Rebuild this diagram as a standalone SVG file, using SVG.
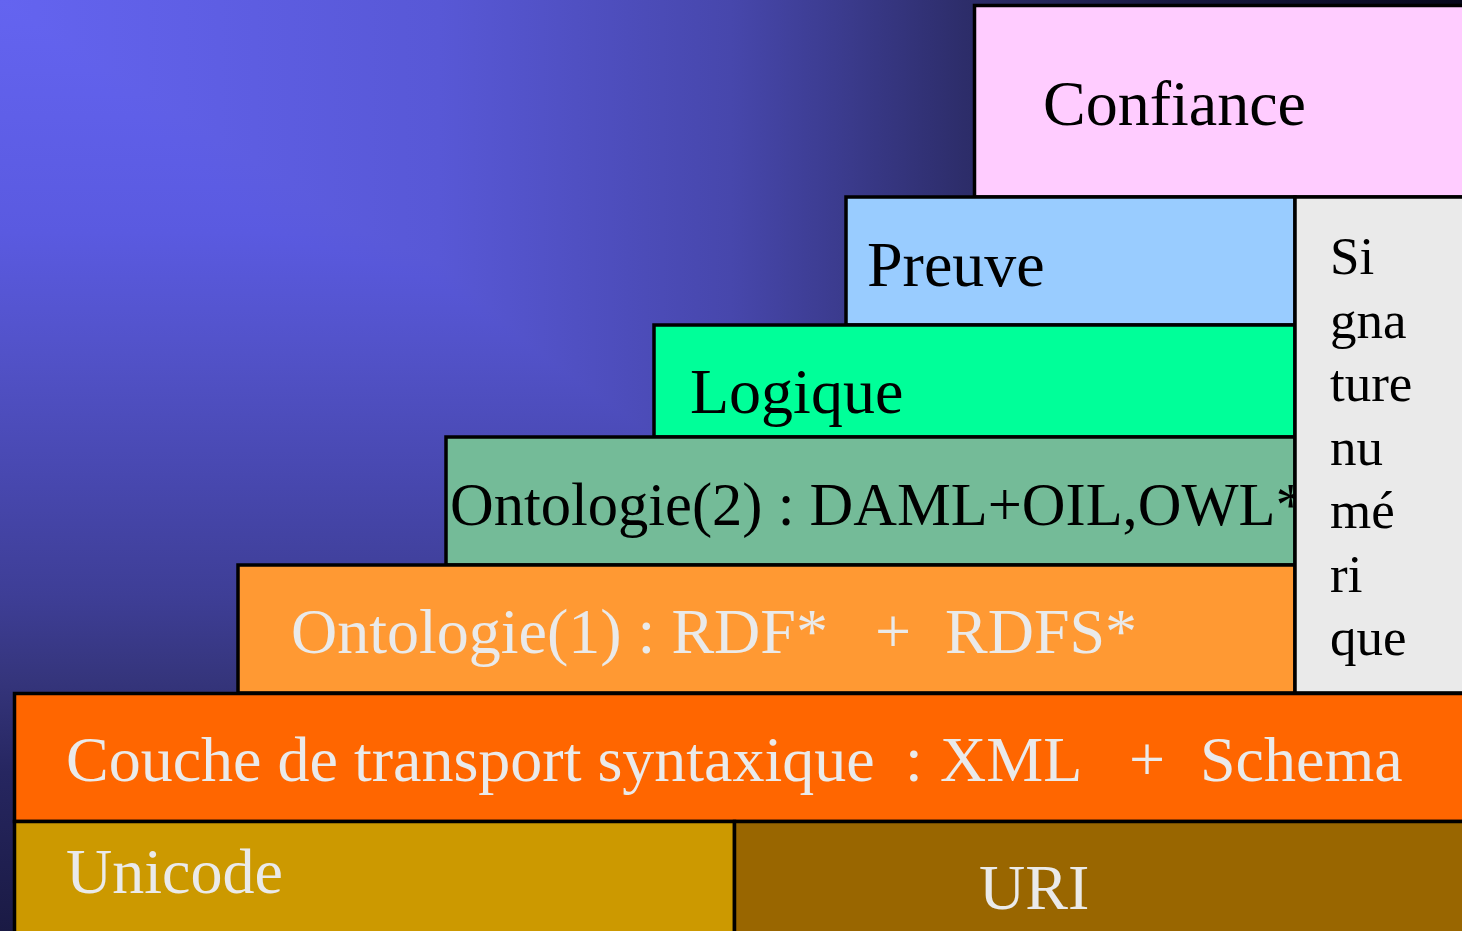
<svg xmlns="http://www.w3.org/2000/svg" width="1462" height="931" viewBox="0 0 1462 931">
  <defs>
    <linearGradient id="bgH" gradientUnits="userSpaceOnUse" x1="0" y1="0" x2="1462" y2="0">
      <stop offset="0" stop-color="#6464f0"/>
      <stop offset="0.3" stop-color="#5858d6"/>
      <stop offset="0.5" stop-color="#4747ac"/>
      <stop offset="0.57" stop-color="#3c3c90"/>
      <stop offset="0.66" stop-color="#2d2d6a"/>
      <stop offset="0.8" stop-color="#181840"/>
      <stop offset="1" stop-color="#06061a"/>
    </linearGradient>
    <linearGradient id="bgV" gradientUnits="userSpaceOnUse" x1="0" y1="0" x2="0" y2="931">
      <stop offset="0" stop-color="#6464f0"/>
      <stop offset="0.25" stop-color="#5a5ae0"/>
      <stop offset="0.38" stop-color="#5252c8"/>
      <stop offset="0.51" stop-color="#4848b0"/>
      <stop offset="0.64" stop-color="#3e3e96"/>
      <stop offset="0.73" stop-color="#35357c"/>
      <stop offset="0.83" stop-color="#262660"/>
      <stop offset="1" stop-color="#1a1a44"/>
    </linearGradient>
  </defs>
  <style>
    .box { stroke: #000000; stroke-width: 3.5; }
    .lbl { font-family: "Liberation Serif", "Times New Roman", serif; font-size: 64px; }
    .dark { fill: #000000; }
    .light { fill: #eaeaea; }
    .sig { font-family: "Liberation Serif", "Times New Roman", serif; font-size: 53px; fill: #000000; }
  </style>

  <g id="background" style="isolation:isolate">
    <rect x="0" y="0" width="1462" height="931" fill="url(#bgH)"/>
    <rect x="0" y="0" width="1462" height="931" fill="url(#bgV)" style="mix-blend-mode:darken"/>
  </g>

  <g id="confiance">
    <rect class="box" x="974.5" y="5.5" width="520" height="191.5" fill="#ffccff"/>
    <text class="lbl dark" x="1043" y="125">Confiance</text>
  </g>

  <g id="preuve">
    <rect class="box" x="846" y="197" width="449" height="128" fill="#99ccff"/>
    <text class="lbl dark" x="867" y="286">Preuve</text>
  </g>

  <g id="logique">
    <rect class="box" x="654" y="325" width="641" height="112" fill="#00ff99"/>
    <text class="lbl dark" x="690" y="413">Logique</text>
  </g>

  <g id="ontologie2">
    <rect class="box" x="446" y="437" width="849" height="128" fill="#74bb98"/>
    <text class="lbl dark" x="450" y="525" style="font-size:60.5px">Ontologie(2) : DAML+OIL,OWL*</text>
  </g>

  <g id="ontologie1">
    <rect class="box" x="238" y="565" width="1057" height="128" fill="#ff9933"/>
    <text class="lbl light" y="653"><tspan x="291">Ontologie(1) : RDF*</tspan><tspan x="875">+</tspan><tspan x="945">RDFS*</tspan></text>
  </g>

  <g id="signature">
    <rect class="box" x="1295" y="197" width="200" height="496" fill="#eaeaea"/>
    <text class="sig" x="1330" y="274">Si</text>
    <text class="sig" x="1330" y="337.5">gna</text>
    <text class="sig" x="1330" y="401">ture</text>
    <text class="sig" x="1330" y="464.5">nu</text>
    <text class="sig" x="1330" y="528">mé</text>
    <text class="sig" x="1330" y="591.5">ri</text>
    <text class="sig" x="1330" y="655">que</text>
  </g>

  <g id="couche-xml">
    <rect class="box" x="14.5" y="693.5" width="1480" height="128" fill="#ff6600"/>
    <text class="lbl light" y="781"><tspan x="66">Couche de transport syntaxique</tspan><tspan x="905">:</tspan><tspan x="940">XML</tspan><tspan x="1129">+</tspan><tspan x="1200">Schema</tspan></text>
  </g>

  <g id="unicode">
    <rect class="box" x="14.5" y="821.5" width="720" height="130" fill="#cc9900"/>
    <text class="lbl light" x="66" y="893">Unicode</text>
  </g>

  <g id="uri">
    <rect class="box" x="734.5" y="821.5" width="760" height="130" fill="#996600"/>
    <text class="lbl light" x="979" y="909">URI</text>
  </g>

  <g id="connectors"/>
</svg>
